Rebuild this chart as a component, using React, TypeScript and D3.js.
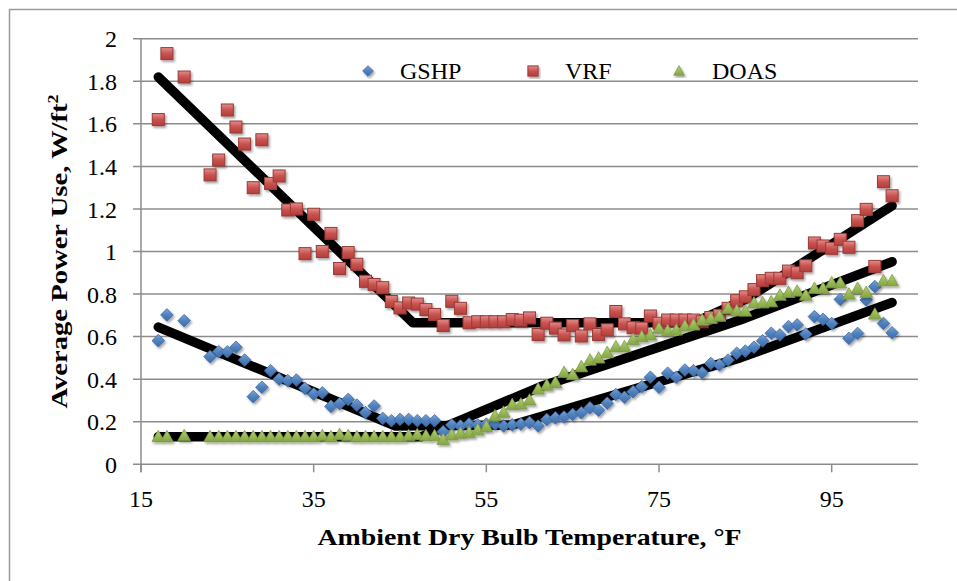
import React from 'react'
import { scaleLinear, line } from 'd3'

// ambient temperature bins, °F (no data at 19, 21, 22)
const tempF = [17, 18, 20, 23, 24, 25, 26, 27, 28, 29, 30, 31, 32, 33, 34, 35, 36, 37, 38, 39, 40,
  41, 42, 43, 44, 45, 46, 47, 48, 49, 50, 51, 52, 53, 54, 55, 56, 57, 58, 59, 60,
  61, 62, 63, 64, 65, 66, 67, 68, 69, 70, 71, 72, 73, 74, 75, 76, 77, 78, 79, 80,
  81, 82, 83, 84, 85, 86, 87, 88, 89, 90, 91, 92, 93, 94, 95, 96, 97, 98, 99, 100, 101, 102]

const gshp = [0.581, 0.702, 0.675, 0.506, 0.529, 0.529, 0.55, 0.49, 0.318, 0.362, 0.44, 0.4, 0.393, 0.396, 0.357, 0.33, 0.336, 0.272, 0.285, 0.305, 0.278,
  0.243, 0.274, 0.216, 0.205, 0.211, 0.211, 0.205, 0.205, 0.205, 0.153, 0.185, 0.18, 0.189, 0.185, 0.189, 0.189, 0.18, 0.185, 0.189, 0.196,
  0.18, 0.21, 0.218, 0.222, 0.234, 0.242, 0.265, 0.254, 0.287, 0.328, 0.315, 0.341, 0.365, 0.409, 0.362, 0.428, 0.409, 0.443, 0.44, 0.43,
  0.474, 0.467, 0.49, 0.522, 0.532, 0.55, 0.58, 0.616, 0.608, 0.647, 0.655, 0.612, 0.694, 0.681, 0.662, 0.775, 0.592, 0.615, 0.772, 0.835, 0.662, 0.618]

const vrf = [1.62, 1.93, 1.82, 1.36, 1.43, 1.665, 1.585, 1.505, 1.3, 1.525, 1.32, 1.355, 1.195, 1.2, 0.99, 1.175, 1.0, 1.085, 0.92, 0.995, 0.94,
  0.86, 0.845, 0.83, 0.765, 0.735, 0.758, 0.753, 0.727, 0.704, 0.652, 0.766, 0.733, 0.665, 0.67, 0.67, 0.67, 0.67, 0.68, 0.677, 0.688,
  0.61, 0.663, 0.64, 0.608, 0.652, 0.603, 0.66, 0.61, 0.632, 0.718, 0.66, 0.642, 0.64, 0.697, 0.663, 0.678, 0.678, 0.678, 0.678, 0.67,
  0.69, 0.7, 0.733, 0.769, 0.787, 0.821, 0.863, 0.874, 0.874, 0.908, 0.9, 0.933, 1.04, 1.026, 1.015, 1.057, 1.02, 1.145, 1.198, 0.93, 1.328, 1.262]

const doas = [0.13, 0.13, 0.135, 0.13, 0.13, 0.13, 0.13, 0.13, 0.13, 0.13, 0.13, 0.13, 0.13, 0.13, 0.13, 0.13, 0.135, 0.13, 0.14, 0.135, 0.13,
  0.13, 0.13, 0.13, 0.13, 0.13, 0.135, 0.14, 0.135, 0.135, 0.117, 0.138, 0.146, 0.15, 0.162, 0.178, 0.228, 0.245, 0.281, 0.283, 0.302,
  0.354, 0.372, 0.385, 0.432, 0.422, 0.459, 0.49, 0.5, 0.525, 0.553, 0.553, 0.587, 0.6, 0.608, 0.639, 0.628, 0.631, 0.65, 0.655, 0.678,
  0.686, 0.697, 0.733, 0.722, 0.72, 0.758, 0.759, 0.764, 0.795, 0.808, 0.814, 0.795, 0.827, 0.827, 0.853, 0.853, 0.8, 0.827, 0.808, 0.706, 0.863, 0.863]

// piecewise trend lines (black), knots
const gshpFitT = [17, 44.5, 58, 84.4, 102]
const gshpFitV = [0.645, 0.18, 0.185, 0.5, 0.76]
const vrfFitT = [17, 46.5, 79, 85, 102]
const vrfFitV = [1.82, 0.665, 0.665, 0.775, 1.215]
const doasFitT = [17, 47.5, 61.3, 84.4, 102]
const doasFitV = [0.13, 0.13, 0.365, 0.678, 0.952]

const xTicks = [15, 35, 55, 75, 95]
const yTicks = [0, 0.2, 0.4, 0.6, 0.8, 1, 1.2, 1.4, 1.6, 1.8, 2]

const seriesNames = ['GSHP', 'VRF', 'DOAS']

const W = 957
const H = 581
const plot = { left: 141, right: 918, top: 38.7, bottom: 464.3 }
const font = '"Liberation Serif", "DejaVu Serif", serif'

const xScale = scaleLinear().domain([15, 105]).range([plot.left, plot.right])
const yScale = scaleLinear().domain([0, 2]).range([plot.bottom, plot.top])

function Marker({ kind, x, y, s = 1 }: { kind: string, x: number, y: number, s?: number }) {
  if (kind === 'GSHP') {
    const r = 6.3 * s
    return <path d={`M${x},${y - r}L${x + r},${y}L${x},${y + r}L${x - r},${y}Z`}
      fill="url(#gBlue)" stroke="#3d6aa3" strokeWidth={0.8} />
  }
  if (kind === 'VRF') {
    const h = 6 * s
    return <rect x={x - h} y={y - h} width={h * 2} height={h * 2}
      fill="url(#gRed)" stroke="#9a3a37" strokeWidth={1} />
  }
  const a = 6.3 * s
  return <path d={`M${x},${y - a}L${x + a},${y + a * 0.8}L${x - a},${y + a * 0.8}Z`}
    fill="url(#gGreen)" stroke="#7d9a45" strokeWidth={0.8} />
}

function Trend({ ts, vs }: { ts: number[], vs: number[] }) {
  const pts = ts.map((t, i) => [t, vs[i]] as [number, number])
  const drawLine = line<[number, number]>()
    .x(d => xScale(d[0]))
    .y(d => yScale(d[1]))
  return <path d={drawLine(pts) || ''} fill="none" stroke="#000" strokeWidth={9.5}
    strokeLinecap="round" strokeLinejoin="round" />
}

function Grid() {
  return <g>
    {yTicks.map(v => (
      <line key={v} x1={plot.left - 8} x2={plot.right} y1={yScale(v)} y2={yScale(v)}
        stroke="#8c8c8c" strokeWidth={1.5} />
    ))}
    <line x1={plot.left} x2={plot.left} y1={plot.top} y2={plot.bottom + 8} stroke="#8c8c8c" strokeWidth={1.5} />
    {xTicks.map(v => (
      <line key={v} x1={xScale(v)} x2={xScale(v)} y1={plot.bottom} y2={plot.bottom + 8}
        stroke="#8c8c8c" strokeWidth={1.5} />
    ))}
  </g>
}

function AxisLabels() {
  return <g fontFamily={font} fill="#000">
    {yTicks.map(v => (
      <text key={v} x={117} y={yScale(v)} dy="0.36em" textAnchor="end" fontSize={24}>
        {String(+v.toFixed(1))}
      </text>
    ))}
    {xTicks.map(v => (
      <text key={v} x={xScale(v)} y={507} textAnchor="middle" fontSize={24}>{v}</text>
    ))}
    <text x={(plot.left + plot.right) / 2} y={545} textAnchor="middle" fontSize={24} fontWeight="bold"
      textLength={424} lengthAdjust="spacingAndGlyphs">
      Ambient Dry Bulb Temperature, °F
    </text>
    <text transform={`translate(67,${(plot.top + plot.bottom) / 2}) rotate(-90)`} textAnchor="middle"
      fontSize={24} fontWeight="bold" textLength={314} lengthAdjust="spacingAndGlyphs">
      Average Power Use, W/ft<tspan dy={-9} fontSize={15}>2</tspan>
    </text>
  </g>
}

function Legend() {
  const items = [
    { name: seriesNames[0], mx: 368, tx: 400 },
    { name: seriesNames[1], mx: 533, tx: 565 },
    { name: seriesNames[2], mx: 679, tx: 712 },
  ]
  return <g>
    {items.map(it => (
      <g key={it.name}>
        <g filter="url(#shadow)"><Marker kind={it.name} x={it.mx} y={71} s={0.85} /></g>
        <text x={it.tx} y={79} fontFamily={font} fontSize={24}>{it.name}</text>
      </g>
    ))}
  </g>
}

function Points({ name, values }: { name: string, values: number[] }) {
  return <g filter="url(#shadow)">
    {values.map((v, i) => (
      <Marker key={i} kind={name} x={xScale(tempF[i])} y={yScale(v)} />
    ))}
  </g>
}

export default function App() {
  return (
    <div style={{ position: 'absolute', left: 0, top: 0 }}>
      <svg width={W} height={H} style={{ display: 'block', background: '#fff' }}>
        <defs>
          <linearGradient id="gRed" x1="0" y1="0" x2="0" y2="1">
            <stop offset="0" stopColor="#e28e8b" />
            <stop offset="0.5" stopColor="#c9524f" />
            <stop offset="1" stopColor="#b03f3c" />
          </linearGradient>
          <linearGradient id="gBlue" x1="0" y1="0" x2="0" y2="1">
            <stop offset="0" stopColor="#7ba3d8" />
            <stop offset="0.5" stopColor="#4f81bd" />
            <stop offset="1" stopColor="#3d6ca8" />
          </linearGradient>
          <linearGradient id="gGreen" x1="0" y1="0" x2="0" y2="1">
            <stop offset="0" stopColor="#b6d07e" />
            <stop offset="0.5" stopColor="#9bbb59" />
            <stop offset="1" stopColor="#85a546" />
          </linearGradient>
          <filter id="shadow" x="-20%" y="-20%" width="140%" height="140%">
            <feDropShadow dx={1.5} dy={2} stdDeviation={1.3} floodColor="#000" floodOpacity={0.35} />
          </filter>
        </defs>
        <rect x={9.5} y={9.5} width={W} height={H} fill="none" stroke="#9a9a9a" strokeWidth={1.5} />
        <Grid />
        <Trend ts={doasFitT} vs={doasFitV} />
        <Trend ts={gshpFitT} vs={gshpFitV} />
        <Trend ts={vrfFitT} vs={vrfFitV} />
        <Points name="GSHP" values={gshp} />
        <Points name="VRF" values={vrf} />
        <Points name="DOAS" values={doas} />
        <AxisLabels />
        <Legend />
      </svg>
    </div>
  )
}
